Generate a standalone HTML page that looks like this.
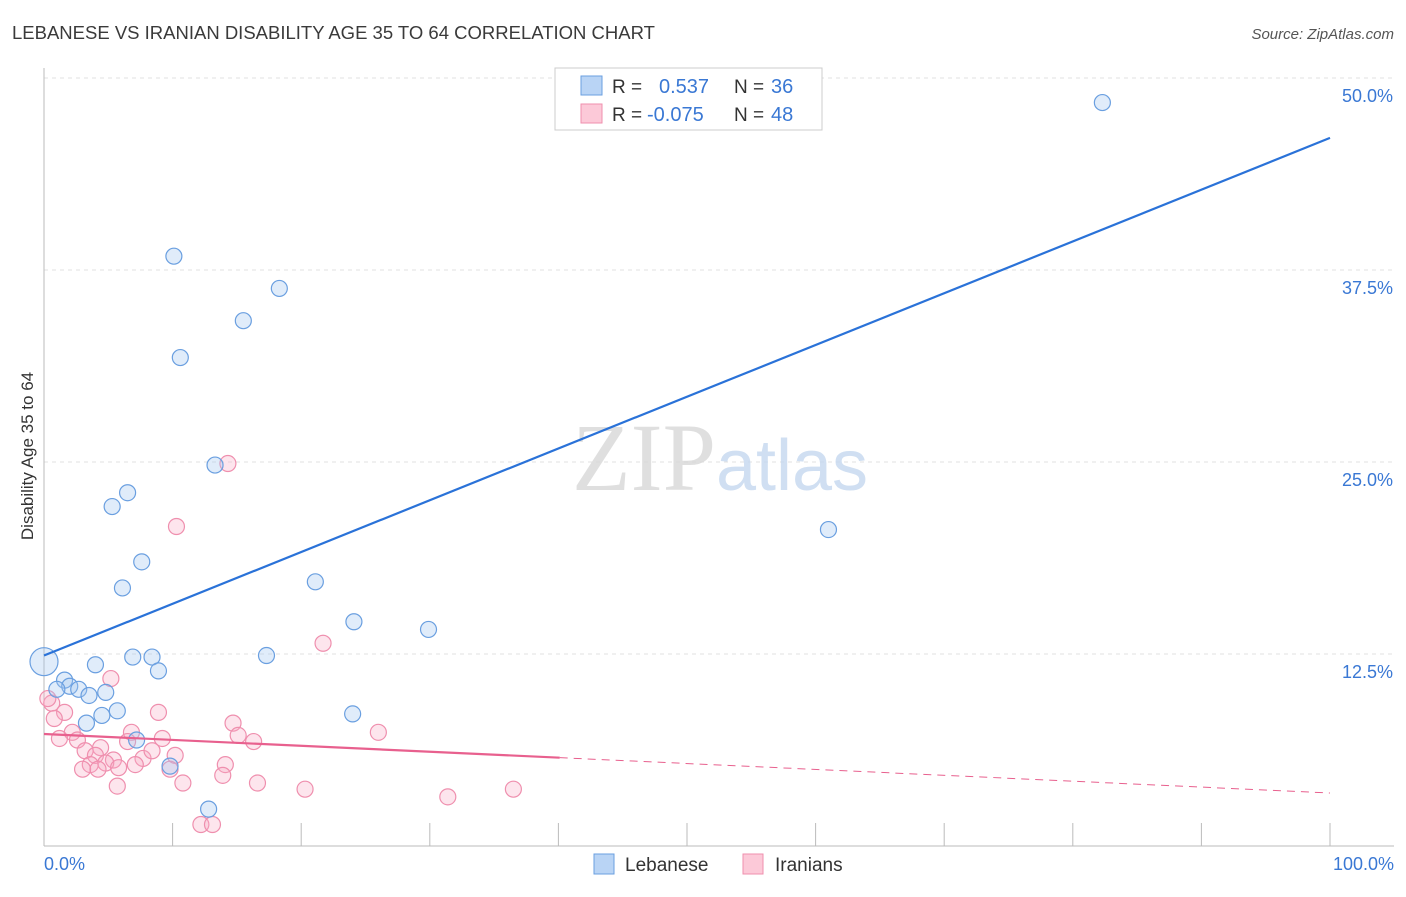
<!DOCTYPE html>
<html><head><meta charset="utf-8"><style>
body{margin:0;background:#fff;font-family:"Liberation Sans",sans-serif}
</style></head><body>
<svg id="chart" width="1406" height="892" xmlns="http://www.w3.org/2000/svg" font-family="Liberation Sans, sans-serif">
<text x="12" y="39" font-size="18.5" fill="#3a3a3a">LEBANESE VS IRANIAN DISABILITY AGE 35 TO 64 CORRELATION CHART</text>
<text x="1394" y="39" font-size="15" fill="#555" font-style="italic" text-anchor="end">Source: ZipAtlas.com</text>
<g id="grid"></g>
<text x="720" y="490" font-size="96" text-anchor="middle" font-family="Liberation Serif, serif" fill="#d8d8d8" opacity="0.8">ZIP<tspan fill="#c5d8ef" font-family="Liberation Sans, sans-serif" font-size="72">atlas</tspan></text>
<text transform="translate(33,456) rotate(-90)" font-size="17" fill="#333" text-anchor="middle">Disability Age 35 to 64</text>
<g id="marks"></g>
<g>
<rect x="555" y="68" width="267" height="62" fill="#fff" stroke="#ccc"/>
<rect x="581" y="76" width="21" height="19" fill="#b9d4f5" stroke="#6a9fe0"/>
<rect x="581" y="104" width="21" height="19" fill="#fcc9d8" stroke="#ef8fae"/>
<text x="612" y="93" font-size="19" fill="#333">R = </text><text x="659" y="93" font-size="20" fill="#3a78d4">0.537</text>
<text x="734" y="93" font-size="19" fill="#333">N = </text><text x="771" y="93" font-size="20" fill="#3a78d4">36</text>
<text x="612" y="121" font-size="19" fill="#333">R = </text><text x="647" y="121" font-size="20" fill="#3a78d4">-0.075</text>
<text x="734" y="121" font-size="19" fill="#333">N = </text><text x="771" y="121" font-size="20" fill="#3a78d4">48</text>
</g>
<g>
<rect x="594" y="854" width="20" height="20" fill="#b9d4f5" stroke="#6a9fe0"/>
<text x="625" y="871" font-size="19" fill="#333">Lebanese</text>
<rect x="743" y="854" width="20" height="20" fill="#fcc9d8" stroke="#ef8fae"/>
<text x="775" y="871" font-size="19" fill="#333">Iranians</text>
</g>
</svg>
<script>
const yTicks=[12.5,25,37.5,50];
const yTickLabels=["12.5%","25.0%","37.5%","50.0%"];
const xTickLabels=["0.0%","100.0%"];
const lebX=[82.3,10.1,18.3,15.5,10.6,13.3,6.5,5.3,61.0,7.6,21.1,6.1,24.1,29.9,6.9,8.4,17.3,4.0,8.9,0,1.6,2.0,1.0,2.7,4.8,3.5,5.7,4.5,24.0,3.3,7.2,9.8,12.8];
const lebY=[48.4,38.4,36.3,34.2,31.8,24.8,23.0,22.1,20.6,18.5,17.2,16.8,14.6,14.1,12.3,12.3,12.4,11.8,11.4,12.0,10.8,10.4,10.2,10.2,10.0,9.8,8.8,8.5,8.6,8.0,6.9,5.2,2.4];
const iraX=[14.3,10.3,21.7,5.2,0.6,1.6,8.9,14.7,26.0,0.8,6.8,9.2,15.1,16.3,2.2,1.2,2.6,4.4,6.5,3.2,4.0,5.4,7.7,8.4,10.2,3.6,4.8,5.8,7.1,3.0,4.2,14.1,13.9,9.8,10.8,5.7,16.6,20.3,31.4,36.5,12.2,13.1,0.3];
const iraY=[24.9,20.8,13.2,10.9,9.3,8.7,8.7,8.0,7.4,8.3,7.4,7.0,7.2,6.8,7.4,7.0,6.9,6.4,6.8,6.2,5.9,5.6,5.7,6.2,5.9,5.3,5.4,5.1,5.3,5.0,5.0,5.3,4.6,5.0,4.1,3.9,4.1,3.7,3.2,3.7,1.4,1.4,9.6];
const lebFit=[12.4,46.1];
const iraFit=[7.29,3.45];
const NS="http://www.w3.org/2000/svg";
const X=v=>44+v*12.86, Y=v=>846-v*15.36;
function mk(t,a,p){const e=document.createElementNS(NS,t);for(const k in a)e.setAttribute(k,a[k]);p.appendChild(e);return e;}
const g=document.getElementById('grid'),m=document.getElementById('marks');
yTicks.forEach((t,i)=>{
 const l=mk('line',{x1:44,x2:1394,y1:Y(t),y2:Y(t),stroke:'#e2e2e2','stroke-dasharray':'4,4'},g);
 
 
 const tx=mk('text',{x:1393,y:Y(t)+24,'font-size':18,fill:'#3a78d4','text-anchor':'end'},g);tx.textContent=yTickLabels[i];
 
 
});
const ax=mk('line',{x1:44,x2:44,y1:68,y2:846,stroke:'#bbb'},g);


const bx=mk('line',{x1:44,x2:1394,y1:846,y2:846,stroke:'#bbb'},g);


for(let i=1;i<=10;i++){const tk=mk('line',{x1:X(i*10),x2:X(i*10),y1:823,y2:846,stroke:'#bbb'},g);
 
 }
[[0,'start',44],[1,'end',1394]].forEach(([i,a,x])=>{const t=mk('text',{x:x,y:870,'font-size':18,fill:'#3a78d4','text-anchor':a},g);t.textContent=xTickLabels[i];
 
 });
iraX.forEach((v,i)=>{const c=mk('circle',{cx:X(v),cy:Y(iraY[i]),r:8,fill:'rgba(248,170,196,0.3)',stroke:'#ef8fae','stroke-width':1.2},m);
 
 });
lebX.forEach((v,i)=>{const c=mk('circle',{cx:X(v),cy:Y(lebY[i]),r:v===0?14:8,fill:'rgba(160,196,240,0.33)',stroke:'#6a9fe0','stroke-width':1.2},m);
 
 });
const bl=mk('line',{x1:X(0),y1:Y(lebFit[0]),x2:X(100),y2:Y(lebFit[1]),stroke:'#2a72d8','stroke-width':2.2},m);


const pmid=iraFit[0]+(iraFit[1]-iraFit[0])*0.401;
const pl=mk('line',{x1:X(0),y1:Y(iraFit[0]),x2:X(40.1),y2:Y(pmid),stroke:'#e8608e','stroke-width':2.2},m);


const pd=mk('line',{x1:X(40.1),y1:Y(pmid),x2:X(100),y2:Y(iraFit[1]),stroke:'#e8608e','stroke-width':1,'stroke-dasharray':'8,6'},m);


</script>
</body></html>
